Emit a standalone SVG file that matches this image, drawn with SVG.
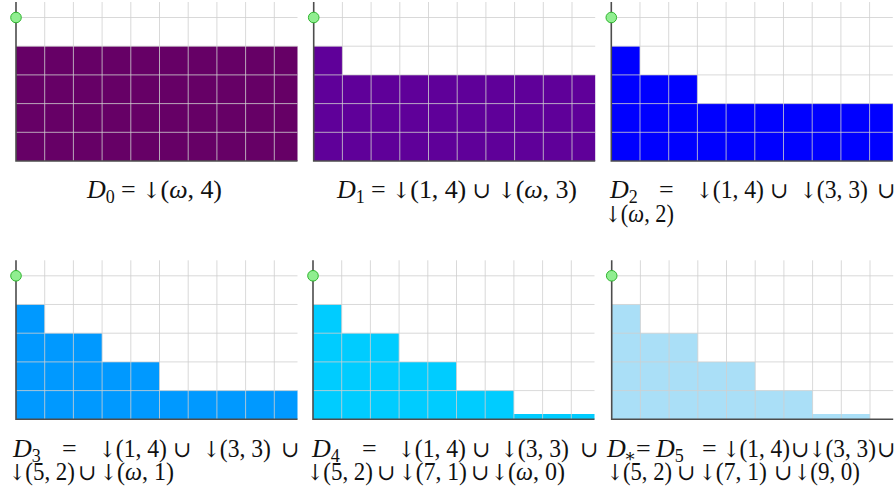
<svg xmlns="http://www.w3.org/2000/svg" width="896" height="498" viewBox="0 0 896 498">
<style>
.grid{fill:none;stroke:#cfcfcf;stroke-width:1;stroke-opacity:0.8}
.ax{fill:none;stroke:#4d4d4d;stroke-width:1.6}
.dot{fill:#90ee90;stroke:#2fb52f;stroke-width:1}
text{font-family:"Liberation Serif","DejaVu Serif",serif;font-size:26px;fill:#111}
.ar{font-family:"DejaVu Serif",serif;font-size:22px}
.cu{font-family:"DejaVu Serif",serif;font-size:22px}
.it{font-style:italic}
.sub{font-size:18px}
.c0{fill:#660066}.c1{fill:#5f0099}.c2{fill:#0000ff}.c3{fill:#0099ff}.c4{fill:#00ccff}.c5{fill:#aadff7}
</style>
<defs>
<path id="g" class="grid" d="M28.7,-159V0M57.4,-159V0M86.1,-159V0M114.8,-159V0M143.5,-159V0M172.2,-159V0M200.9,-159V0M229.6,-159V0M258.3,-159V0M0,-28.7H281.5M0,-57.4H281.5M0,-86.1H281.5M0,-114.8H281.5M0,-143.5H281.5"/>
<g id="frame">
<use href="#g"/>
<path class="ax" d="M0,-159V0H281.5"/>
<circle class="dot" cx="0" cy="-143.5" r="5.3"/>
</g>
</defs>
<g id="panel-d0" transform="translate(16,161)">
<path class="c0" d="M0,0V-114.8H281.5V0Z"/>
<use href="#frame"/>
</g>
<g id="panel-d1" transform="translate(313.7,161)">
<path class="c1" d="M0,0V-114.8H28.7V-86.1H281.5V0Z"/>
<use href="#frame"/>
</g>
<g id="panel-d2" transform="translate(611.3,161)">
<path class="c2" d="M0,0V-114.8H28.7V-86.1H86.1V-57.4H281.5V0Z"/>
<use href="#frame"/>
</g>
<g id="panel-d3" transform="translate(16,419.3)">
<path class="c3" d="M0,0V-114.8H28.7V-86.1H86.1V-57.4H143.5V-28.7H281.5V0Z"/>
<use href="#frame"/>
</g>
<g id="panel-d4" transform="translate(313,419.3)">
<path class="c4" d="M0,0V-114.8H28.7V-86.1H86.1V-57.4H143.5V-28.7H200.9V-5.2H281.5V0Z"/>
<use href="#frame"/>
</g>
<g id="panel-d5" transform="translate(611.7,419.3)">
<path class="c5" d="M0,0V-114.8H28.7V-86.1H86.1V-57.4H143.5V-28.7H200.9V-5.2H258.3V0Z"/>
<use href="#frame"/>
</g>
<g id="label-d0">
<text x="87" y="198" textLength="135" lengthAdjust="spacing"><tspan class="it">D</tspan><tspan class="sub" dy="5">0</tspan><tspan dy="-5"> = </tspan><tspan class="ar">↓</tspan>(<tspan class="it">ω</tspan>, 4)</text>
</g>
<g id="label-d1">
<text x="337" y="198" textLength="240" lengthAdjust="spacing"><tspan class="it">D</tspan><tspan class="sub" dy="5">1</tspan><tspan dy="-5"> = </tspan><tspan class="ar">↓</tspan>(1, 4) <tspan class="cu">∪</tspan> <tspan class="ar">↓</tspan>(<tspan class="it">ω</tspan>, 3)</text>
</g>
<g id="label-d2">
<text x="610" y="198"><tspan class="it">D</tspan><tspan class="sub" dy="5">2</tspan></text>
<text x="659" y="198">=</text>
<text x="696" y="198" textLength="68" lengthAdjust="spacingAndGlyphs"><tspan class="ar">↓</tspan>(1, 4)</text>
<text x="770" y="198" class="cu">∪</text>
<text x="800" y="198" textLength="68" lengthAdjust="spacingAndGlyphs"><tspan class="ar">↓</tspan>(3, 3)</text>
<text x="877" y="198" class="cu">∪</text>
<text x="605" y="222" textLength="69" lengthAdjust="spacingAndGlyphs"><tspan class="ar">↓</tspan>(<tspan class="it">ω</tspan>, 2)</text>
</g>
<g id="label-d3">
<text x="13" y="457"><tspan class="it">D</tspan><tspan class="sub" dy="5">3</tspan></text>
<text x="62" y="457">=</text>
<text x="99" y="457" textLength="68" lengthAdjust="spacingAndGlyphs"><tspan class="ar">↓</tspan>(1, 4)</text>
<text x="173" y="457" class="cu">∪</text>
<text x="203" y="457" textLength="68" lengthAdjust="spacingAndGlyphs"><tspan class="ar">↓</tspan>(3, 3)</text>
<text x="281" y="457" class="cu">∪</text>
<text x="9" y="480" textLength="66" lengthAdjust="spacingAndGlyphs"><tspan class="ar">↓</tspan>(5, 2)</text>
<text x="78" y="480" class="cu">∪</text>
<text x="100" y="480" textLength="74" lengthAdjust="spacingAndGlyphs"><tspan class="ar">↓</tspan>(<tspan class="it">ω</tspan>, 1)</text>
</g>
<g id="label-d4">
<text x="312" y="457"><tspan class="it">D</tspan><tspan class="sub" dy="5">4</tspan></text>
<text x="362" y="457">=</text>
<text x="398" y="457" textLength="68" lengthAdjust="spacingAndGlyphs"><tspan class="ar">↓</tspan>(1, 4)</text>
<text x="472" y="457" class="cu">∪</text>
<text x="501" y="457" textLength="68" lengthAdjust="spacingAndGlyphs"><tspan class="ar">↓</tspan>(3, 3)</text>
<text x="580" y="457" class="cu">∪</text>
<text x="307" y="480" textLength="66" lengthAdjust="spacingAndGlyphs"><tspan class="ar">↓</tspan>(5, 2)</text>
<text x="377" y="480" class="cu">∪</text>
<text x="399" y="480" textLength="68" lengthAdjust="spacingAndGlyphs"><tspan class="ar">↓</tspan>(7, 1)</text>
<text x="471" y="480" class="cu">∪</text>
<text x="491" y="480" textLength="74" lengthAdjust="spacingAndGlyphs"><tspan class="ar">↓</tspan>(<tspan class="it">ω</tspan>, 0)</text>
</g>
<g id="label-d5">
<text x="607" y="457"><tspan class="it">D</tspan><tspan class="sub" dy="5" dx="-2">∗</tspan></text>
<text x="636" y="457">=</text>
<text x="656" y="457"><tspan class="it">D</tspan><tspan class="sub" dy="5">5</tspan></text>
<text x="702" y="457">=</text>
<text x="723" y="457" textLength="67" lengthAdjust="spacingAndGlyphs"><tspan class="ar">↓</tspan>(1, 4)</text>
<text x="791" y="457" class="cu">∪</text>
<text x="809" y="457" textLength="67" lengthAdjust="spacingAndGlyphs"><tspan class="ar">↓</tspan>(3, 3)</text>
<text x="877" y="457" class="cu">∪</text>
<text x="607" y="480" textLength="65" lengthAdjust="spacingAndGlyphs"><tspan class="ar">↓</tspan>(5, 2)</text>
<text x="677" y="480" class="cu">∪</text>
<text x="699" y="480" textLength="68" lengthAdjust="spacingAndGlyphs"><tspan class="ar">↓</tspan>(7, 1)</text>
<text x="774" y="480" class="cu">∪</text>
<text x="794" y="480" textLength="66" lengthAdjust="spacingAndGlyphs"><tspan class="ar">↓</tspan>(9, 0)</text>
</g>
</svg>
